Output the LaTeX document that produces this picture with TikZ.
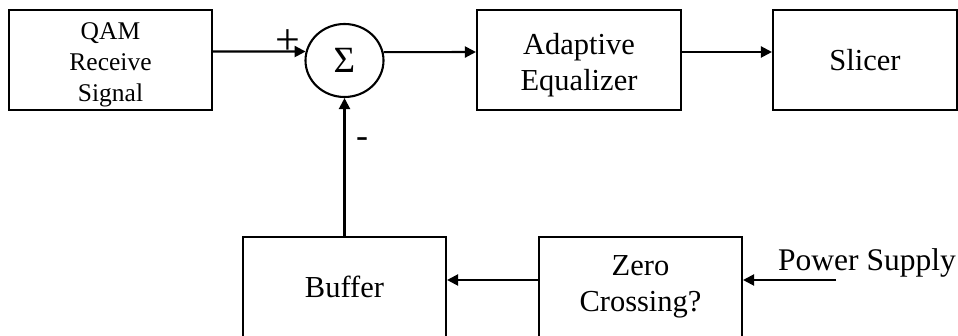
\documentclass[tikz,border=0pt]{standalone}
\usepackage{fontspec}
\setmainfont{Liberation Serif}
\usetikzlibrary{arrows.meta,shapes.geometric}
\begin{document}
\begin{tikzpicture}[x=1pt,y=1pt,
  blk/.style={draw,line width=2.1pt,minimum height=100pt,inner sep=0pt,align=center,
    font=\fontsize{30.5}{36}\selectfont},
  arr/.style={line width=2.1pt,-{Triangle[length=11pt,width=11pt]}},
  lbl/.style={inner sep=0pt}]
\useasboundingbox (0,0) rectangle (958,335);
\clip (0,0) rectangle (958,335);
\node[blk,minimum width=203pt,font=\fontsize{25.5}{31}\selectfont] (qam) at (110.5,275) {\rule{0pt}{27pt}QAM\\Receive\\Signal};
\node[draw,ellipse,line width=2.1pt,minimum width=78pt,minimum height=73pt,inner sep=0pt,
  font=\fontsize{37}{40}\selectfont] (sum) at (344.5,274.5) {Σ};
\node[blk,minimum width=204pt] (eq) at (579,275) {\rule{0pt}{31pt}Adaptive\\Equalizer};
\node[blk,minimum width=184pt] (sl) at (865,275) {Slicer};
\node[blk,minimum width=203pt] (buf) at (344.5,48) {Buffer};
\node[blk,minimum width=203pt] (zc) at (640.5,48) {Zero\\Crossing?};
\node[lbl,anchor=base west,font=\fontsize{31.5}{36}\selectfont] (ps) at (778,65) {Power Supply};
\coordinate (psend) at (836,55);
\node[lbl,font=\fontsize{44}{46}\selectfont] (plus) at (288,293) {+};
\node[lbl,font=\fontsize{36}{40}\selectfont] (minus) at (362,192) {-};
\draw[arr] ([yshift=8.5pt]qam.east) -- (sum.167.4);
\draw[arr] (sum.12.6) -- ([yshift=8pt]eq.west);
\draw[arr] ([yshift=8pt]eq.east) -- ([yshift=8pt]sl.west);
\draw[arr] (buf.north) -- (sum.south);
\draw[arr] ([yshift=7pt]zc.west) -- ([yshift=7pt]buf.east);
\draw[arr] (psend) -- ([yshift=7pt]zc.east);
\end{tikzpicture}
\end{document}
